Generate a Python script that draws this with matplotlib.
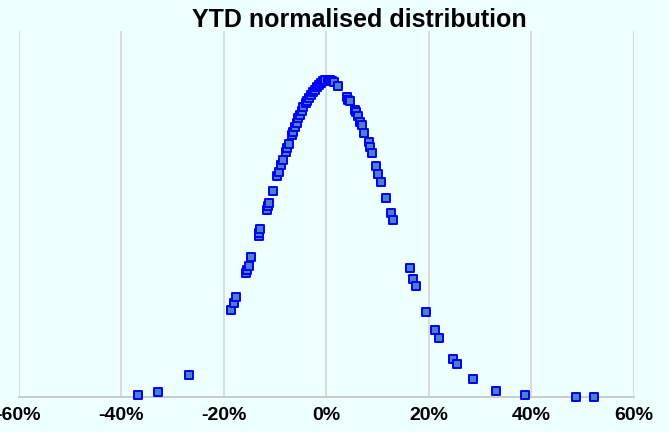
import matplotlib
matplotlib.use("Agg")
import matplotlib.pyplot as plt
from matplotlib.ticker import PercentFormatter

# YTD return (%) and normalised density
returns_pct = [
    -36.7, -32.7, -26.8, -18.5, -17.9, -17.5, -15.7, -15.5, -15.1, -14.6,
    -13.1, -13.0, -12.8, -11.5, -11.3, -11.2, -10.4, -9.5, -9.2, -8.7,
    -8.4, -7.9, -7.6, -7.2, -6.7, -6.5, -6.1, -5.7, -5.4, -5.1,
    -4.7, -4.4, -4.0, -3.7, -3.3, -2.9, -2.5, -2.1, -1.7, -1.3,
    -0.9, -0.5, -0.1, 0.3, 0.7, 1.1, 1.6, 2.4, 4.0, 4.3,
    4.7, 5.6, 5.8, 6.2, 6.6, 7.0, 7.5, 8.3, 8.6, 8.9,
    9.8, 10.2, 10.7, 11.8, 12.7, 13.1, 16.3, 17.0, 17.5, 19.5,
    21.2, 22.1, 24.7, 25.6, 28.6, 33.2, 38.8, 48.8, 52.3,
]
density = [
    0.02, 0.06, 0.24, 0.95, 1.03, 1.09, 1.36, 1.39, 1.43, 1.53,
    1.76, 1.79, 1.84, 2.04, 2.09, 2.12, 2.25, 2.42, 2.46, 2.54,
    2.59, 2.68, 2.72, 2.77, 2.86, 2.90, 2.95, 3.00, 3.05, 3.08,
    3.13, 3.17, 3.21, 3.24, 3.27, 3.30, 3.33, 3.36, 3.39, 3.41,
    3.43, 3.45, 3.46, 3.46, 3.46, 3.45, 3.44, 3.40, 3.28, 3.25,
    3.23, 3.14, 3.12, 3.07, 3.01, 2.97, 2.88, 2.79, 2.73, 2.67,
    2.52, 2.44, 2.35, 2.18, 2.01, 1.93, 1.41, 1.29, 1.21, 0.93,
    0.73, 0.64, 0.42, 0.36, 0.20, 0.07, 0.02, 0.00, 0.00,
]
x_ticks = [-60, -40, -20, 0, 20, 40, 60]

BG = "#EDFFFF"
W, H = 669, 432

plt.rcParams["axes.unicode_minus"] = False  # plain hyphen like the original

fig = plt.figure(figsize=(W / 100, H / 100), dpi=100, facecolor=BG)
ax = fig.add_axes([18.5 / W, 35 / H, 615 / W, 366 / H], facecolor=BG)

ax.scatter(returns_pct, density, marker="s", s=38, facecolor="#4F81BD",
           edgecolor="#0000FF", linewidth=1.4, zorder=3, clip_on=False)

ax.set_xlim(-60, 60)
ax.set_ylim(0, 4)
ax.set_xticks(x_ticks)
ax.xaxis.set_major_formatter(PercentFormatter(decimals=0))
ax.set_yticks([])
ax.grid(True, axis="x", color="#D9D9D9", linewidth=1.3)
ax.set_axisbelow(True)
for side in ("left", "right", "top"):
    ax.spines[side].set_visible(False)
ax.spines["bottom"].set_color("#C8C8C8")
ax.spines["bottom"].set_linewidth(1.3)
ax.tick_params(axis="x", length=0, pad=7)
for lbl in ax.get_xticklabels():
    lbl.set_fontfamily("Liberation Sans")
    lbl.set_fontweight("bold")
    lbl.set_fontsize(14)

fig.text(359.5 / W, 1 - 20 / H, "YTD normalised distribution", ha="center",
         va="center", fontsize=18, fontweight="bold", family="Liberation Sans")

fig.savefig("out.png", dpi=100, facecolor=BG)
